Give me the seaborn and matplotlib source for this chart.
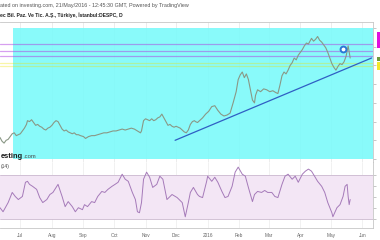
import matplotlib
matplotlib.use("Agg")
import matplotlib.pyplot as plt
import matplotlib.transforms as mtransforms
from matplotlib.patches import Rectangle
import seaborn as sns
import pandas as pd

# ---------------- data ----------------
price_dates = [
    "2015-06-11", "2015-06-13", "2015-06-15", "2015-06-17", "2015-06-19", "2015-06-21",
    "2015-06-23", "2015-06-25", "2015-06-27", "2015-06-29", "2015-07-01", "2015-07-03",
    "2015-07-05", "2015-07-07", "2015-07-08", "2015-07-10", "2015-07-12", "2015-07-14",
    "2015-07-16", "2015-07-18", "2015-07-20", "2015-07-22", "2015-07-24", "2015-07-26",
    "2015-07-28", "2015-07-30", "2015-08-01", "2015-08-03", "2015-08-05", "2015-08-07",
    "2015-08-09", "2015-08-11", "2015-08-13", "2015-08-15", "2015-08-17", "2015-08-19",
    "2015-08-21", "2015-08-23", "2015-08-25", "2015-08-27", "2015-08-29", "2015-09-01",
    "2015-09-03", "2015-09-06", "2015-09-09", "2015-09-12", "2015-09-15", "2015-09-18",
    "2015-09-21", "2015-09-24", "2015-09-27", "2015-09-30", "2015-10-03", "2015-10-06",
    "2015-10-09", "2015-10-12", "2015-10-15", "2015-10-18", "2015-10-21", "2015-10-24",
    "2015-10-27", "2015-10-28", "2015-10-30", "2015-11-01", "2015-11-03", "2015-11-05",
    "2015-11-07", "2015-11-09", "2015-11-11", "2015-11-13", "2015-11-15", "2015-11-17",
    "2015-11-19", "2015-11-21", "2015-11-23", "2015-11-25", "2015-11-27", "2015-11-29",
    "2015-12-01", "2015-12-03", "2015-12-05", "2015-12-07", "2015-12-09", "2015-12-11",
    "2015-12-13", "2015-12-15", "2015-12-17", "2015-12-19", "2015-12-20", "2015-12-22",
    "2015-12-24", "2015-12-27", "2015-12-30", "2016-01-02", "2016-01-05", "2016-01-08",
    "2016-01-11", "2016-01-14", "2016-01-17", "2016-01-20", "2016-01-23", "2016-01-26",
    "2016-01-29", "2016-01-31", "2016-02-02", "2016-02-04", "2016-02-06", "2016-02-08",
    "2016-02-10", "2016-02-12", "2016-02-14", "2016-02-16", "2016-02-17", "2016-02-19",
    "2016-02-22", "2016-02-25", "2016-02-28", "2016-03-02", "2016-03-05", "2016-03-08",
    "2016-03-10", "2016-03-12", "2016-03-14", "2016-03-16", "2016-03-18", "2016-03-20",
    "2016-03-22", "2016-03-24", "2016-03-26", "2016-03-28", "2016-03-30", "2016-04-01",
    "2016-04-03", "2016-04-05", "2016-04-07", "2016-04-09", "2016-04-11", "2016-04-12",
    "2016-04-14", "2016-04-16", "2016-04-18", "2016-04-20", "2016-04-22", "2016-04-24",
    "2016-04-26", "2016-04-28", "2016-04-30", "2016-05-02", "2016-05-04", "2016-05-06",
    "2016-05-08", "2016-05-10", "2016-05-12", "2016-05-14", "2016-05-16", "2016-05-18",
    "2016-05-20",
]
price_close = [
    2.23, 2.19, 2.17, 2.20, 2.21, 2.24,
    2.27, 2.28, 2.25, 2.26, 2.27, 2.30,
    2.33, 2.37, 2.41, 2.40, 2.42, 2.39,
    2.36, 2.37, 2.35, 2.34, 2.32, 2.31,
    2.33, 2.34, 2.36, 2.39, 2.41, 2.40,
    2.36, 2.32, 2.30, 2.31, 2.29, 2.28,
    2.27, 2.28, 2.26, 2.26, 2.25, 2.24,
    2.22, 2.24, 2.25, 2.25, 2.26, 2.27,
    2.28, 2.28, 2.29, 2.30, 2.30, 2.31,
    2.32, 2.31, 2.32, 2.33, 2.32, 2.30,
    2.28, 2.30, 2.41, 2.43, 2.42, 2.41,
    2.43, 2.41, 2.42, 2.44, 2.45, 2.48,
    2.44, 2.40, 2.36, 2.37, 2.35, 2.34,
    2.35, 2.34, 2.33, 2.31, 2.29, 2.28,
    2.31, 2.37, 2.40, 2.41, 2.40, 2.39,
    2.41, 2.44, 2.48, 2.51, 2.56, 2.57,
    2.52, 2.48, 2.46, 2.47, 2.49, 2.60,
    2.72, 2.85, 2.90, 2.93, 2.87, 2.91,
    2.85, 2.74, 2.63, 2.60, 2.68, 2.74,
    2.72, 2.75, 2.74, 2.72, 2.73, 2.71,
    2.70, 2.79, 2.89, 2.93, 2.91, 2.95,
    3.00, 3.03, 3.08, 3.06, 3.11, 3.14,
    3.17, 3.21, 3.24, 3.23, 3.27, 3.29,
    3.26, 3.28, 3.31, 3.27, 3.25, 3.22,
    3.19, 3.14, 3.08, 3.02, 2.98, 2.95,
    2.99, 3.02, 3.01, 3.04, 3.10, 3.21,
    3.08,
]

rsi_dates = [
    "2015-06-11", "2015-06-14", "2015-06-19", "2015-06-23", "2015-06-26", "2015-06-29",
    "2015-07-03", "2015-07-06", "2015-07-08", "2015-07-10", "2015-07-13", "2015-07-17",
    "2015-07-20", "2015-07-23", "2015-07-27", "2015-07-30", "2015-08-02", "2015-08-07",
    "2015-08-11", "2015-08-14", "2015-08-17", "2015-08-21", "2015-08-24", "2015-08-27",
    "2015-08-31", "2015-09-02", "2015-09-05", "2015-09-09", "2015-09-12", "2015-09-15",
    "2015-09-19", "2015-09-22", "2015-09-25", "2015-09-29", "2015-10-02", "2015-10-05",
    "2015-10-09", "2015-10-12", "2015-10-15", "2015-10-19", "2015-10-22", "2015-10-24",
    "2015-10-26", "2015-10-28", "2015-10-30", "2015-11-02", "2015-11-05", "2015-11-08",
    "2015-11-12", "2015-11-15", "2015-11-18", "2015-11-22", "2015-11-27", "2015-12-02",
    "2015-12-07", "2015-12-10", "2015-12-13", "2015-12-15", "2015-12-18", "2015-12-22",
    "2015-12-24", "2015-12-27", "2015-12-31", "2016-01-01", "2016-01-05", "2016-01-08",
    "2016-01-11", "2016-01-15", "2016-01-18", "2016-01-21", "2016-01-25", "2016-01-28",
    "2016-01-31", "2016-02-04", "2016-02-07", "2016-02-10", "2016-02-14", "2016-02-16",
    "2016-02-19", "2016-02-23", "2016-02-26", "2016-02-29", "2016-03-04", "2016-03-07",
    "2016-03-10", "2016-03-14", "2016-03-17", "2016-03-20", "2016-03-24", "2016-03-27",
    "2016-03-30", "2016-04-03", "2016-04-06", "2016-04-09", "2016-04-12", "2016-04-15",
    "2016-04-18", "2016-04-22", "2016-04-25", "2016-04-28", "2016-05-02", "2016-05-03",
    "2016-05-07", "2016-05-10", "2016-05-13", "2016-05-15", "2016-05-17", "2016-05-18",
    "2016-05-19", "2016-05-20",
]
rsi_values = [
    40.2, 36.5, 44.9, 54.2, 50.5, 47.7,
    50.5, 63.5, 64.4, 61.6, 59.8, 57.0,
    49.5, 44.9, 47.7, 52.3, 54.2, 61.6,
    50.5, 41.2, 45.8, 41.2, 36.5, 40.2,
    38.4, 43.0, 41.2, 45.8, 44.9, 50.5,
    55.1, 54.2, 57.0, 59.8, 61.6, 63.5,
    70.9, 66.3, 64.4, 54.2, 47.7, 36.5,
    35.6, 44.9, 66.3, 72.8, 68.1, 58.8,
    61.6, 69.1, 66.3, 47.7, 52.3, 49.5,
    44.9, 31.9, 44.9, 54.2, 58.8, 52.3,
    50.5, 49.5, 64.4, 69.1, 64.4, 68.1,
    63.5, 55.1, 49.5, 50.5, 59.8, 72.8,
    77.4, 70.9, 69.1, 58.8, 45.8, 52.3,
    55.1, 54.2, 56.0, 54.2, 54.2, 50.5,
    49.5, 61.6, 69.1, 70.9, 66.3, 69.1,
    63.5, 70.9, 73.7, 75.6, 73.7, 69.1,
    64.4, 59.8, 54.2, 44.9, 35.6, 31.9,
    40.2, 43.0, 50.5, 59.8, 61.6, 50.5,
    43.0, 47.7,
]

month_ticks = ["2015-07-01", "2015-08-01", "2015-09-01", "2015-10-01", "2015-11-01",
               "2015-12-01", "2016-01-01", "2016-02-01", "2016-03-01", "2016-04-01",
               "2016-05-01", "2016-06-01"]
month_labels = ["Jul", "Aug", "Sep", "Oct", "Nov", "Dec", "2016", "Feb", "Mar", "Apr",
                "May", "Jun"]

view_start, view_end = "2015-06-11", "2016-06-11 10:00"
zone_start, zone_end = "2015-06-24", "2016-07-31"
zone_low, zone_high = 2.00, 3.40
magenta_levels = [3.23, 3.155, 3.105]
yellow_levels = [3.03, 2.99]
trend_dates = ["2015-11-30", "2016-06-10"]
trend_prices = [2.20, 3.08]
alert_date, alert_price = "2016-05-13", 3.18
price_ticks = [2.0, 2.2, 2.4, 2.6, 2.8, 3.0, 3.2, 3.4]
price_limits = (1.968, 3.465)
# price-scale label boxes (low, high, colour) - their numbers lie beyond the crop
axis_label_boxes = [(3.187, 3.358, "#e010e0"), (3.048, 3.096, "#6f9a3c"),
                    (2.952, 3.037, "#f2e82a")]
rsi_ticks = [30, 40, 50, 60, 70]
rsi_band = (30, 70)
rsi_limits = (21.6, 82.1)

# the visible (cropped) parts of the screenshot's texts
title_1 = "ated on investing.com, 21/May/2016 - 12:45:30 GMT, Powered by TradingView"
title_2 = "ec Bil. Paz. Ve Tic. A.Ş., Türkiye, İstanbul:DESPC, D"
logo_a, logo_b = "esting", ".com"
rsi_label = "(14)"

# ---------------- figure ----------------
sns.set_theme(style="white")
plt.rcParams["font.family"] = ["Liberation Sans", "DejaVu Sans"]

W, H = 380, 240
fig = plt.figure(figsize=(W / 100, H / 100), dpi=100)
fig.patch.set_facecolor("white")

ax = fig.add_axes([0, 1 - 162 / H, 373 / W, 140 / H])
ax2 = fig.add_axes([0, 1 - 228 / H, 373 / W, 66 / H], sharex=ax)

pdf = pd.DataFrame({"date": pd.to_datetime(price_dates), "close": price_close})
rdf = pd.DataFrame({"date": pd.to_datetime(rsi_dates), "rsi": rsi_values})
x0, x1 = pd.Timestamp(view_start), pd.Timestamp(view_end)

# main panel
for d in pd.to_datetime(month_ticks):
    ax.axvline(d, color="#e4e4e4", lw=0.5, zorder=0)
ax.fill_between(pd.to_datetime([zone_start, zone_end]), zone_low, zone_high,
                color="#80fafa", alpha=0.93, lw=0, zorder=1)
for lv in magenta_levels:
    ax.axhline(lv, color="#b040e0", lw=0.9, alpha=0.5, zorder=2)
for lv in yellow_levels:
    ax.axhline(lv, color="#efe400", lw=0.9, alpha=0.35, zorder=2)
sns.lineplot(data=pdf, x="date", y="close", ax=ax, color="#8a9886", lw=0.8, zorder=3)
ax.plot(pd.to_datetime(trend_dates), trend_prices, color="#2f5fc4", lw=0.9, zorder=4)
ax.plot([pd.Timestamp(alert_date)], [alert_price], marker="o", ms=4.2, mfc="white",
        mec="#2a78d6", mew=1.4, zorder=5)

ax.set_xlim(x0, x1)
ax.set_ylim(*price_limits)
ax.yaxis.tick_right()
ax.set_yticks(price_ticks)
ax.tick_params(axis="y", length=2, width=0.5, color="#b0b0b0", labelright=False,
               labelleft=False, right=True, left=False)
ax.tick_params(axis="x", bottom=False, labelbottom=False)
ax.set_xlabel("")
ax.set_ylabel("")
ax.spines["left"].set_visible(False)
for s in ("top", "right", "bottom"):
    ax.spines[s].set_color("#c6c6c6")
    ax.spines[s].set_linewidth(0.6)

blend = mtransforms.blended_transform_factory(ax.transAxes, ax.transData)
for lo, hi, col in axis_label_boxes:
    ax.add_patch(Rectangle((1.011, lo), 0.06, hi - lo, transform=blend, fc=col,
                           ec="none", clip_on=False, zorder=6))

# RSI panel
for d in pd.to_datetime(month_ticks):
    ax2.axvline(d, color="#ececec", lw=0.5, zorder=0)
ax2.fill_between([x0, x1], rsi_band[0], rsi_band[1], color="#f3e6f5", lw=0, zorder=1)
for lv in rsi_band:
    ax2.axhline(lv, color="#cbb9cf", lw=0.6, zorder=2)
sns.lineplot(data=rdf, x="date", y="rsi", ax=ax2, color="#a57ab9", lw=0.7, zorder=3)
ax2.set_xlim(x0, x1)
ax2.set_ylim(*rsi_limits)
ax2.yaxis.tick_right()
ax2.set_yticks(rsi_ticks)
ax2.tick_params(axis="y", length=2, width=0.5, color="#b0b0b0", labelright=False,
                labelleft=False, right=True, left=False)
ax2.set_xticks(pd.to_datetime(month_ticks))
ax2.set_xticklabels(month_labels)
ax2.tick_params(axis="x", length=0, pad=3.5, labelsize=3.4, labelcolor="#666666")
ax2.set_xlabel("")
ax2.set_ylabel("")
ax2.spines["left"].set_visible(False)
ax2.spines["top"].set_visible(False)
for s in ("right", "bottom"):
    ax2.spines[s].set_color("#c6c6c6")
    ax2.spines[s].set_linewidth(0.6)

# texts
fig.text(0.5 / W, 1 - 5.5 / H, title_1, ha="left", va="center", fontsize=3.85,
         color="#555555")
fig.text(0.5 / W, 1 - 15.5 / H, title_2, ha="left", va="center", fontsize=3.62,
         color="#222222", fontweight="bold")
fig.text(0.5 / W, 1 - 156 / H, logo_a, ha="left", va="center", fontsize=5.4,
         color="#1a1a1a", fontweight="bold", zorder=10)
fig.text(23.5 / W, 1 - 156.5 / H, logo_b, ha="left", va="center", fontsize=4.2,
         color="#4a4a4a", zorder=10)
fig.text(0.5 / W, 1 - 166.5 / H, rsi_label, ha="left", va="center", fontsize=3.6,
         color="#444444")

fig.savefig("out.png", dpi=100)
